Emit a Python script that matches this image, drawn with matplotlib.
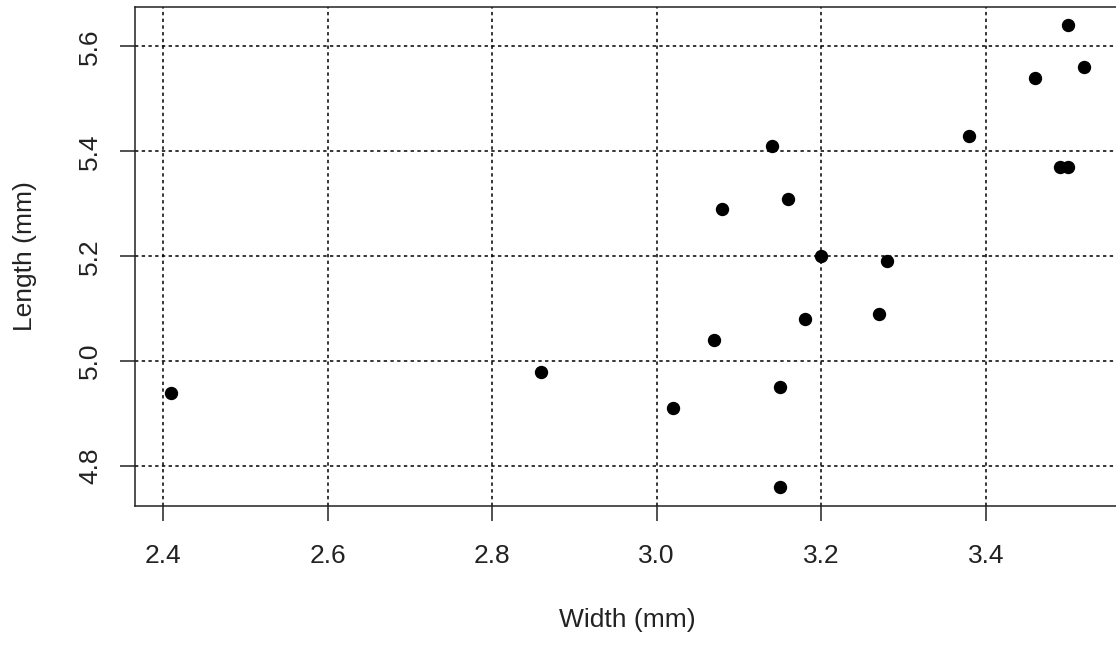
import matplotlib
matplotlib.use("Agg")
from matplotlib import pyplot as plt

width_mm = [2.41, 2.86, 3.02, 3.07, 3.08, 3.14, 3.15, 3.15, 3.16, 3.18,
            3.20, 3.27, 3.28, 3.38, 3.46, 3.49, 3.50, 3.50, 3.52]
length_mm = [4.94, 4.98, 4.91, 5.04, 5.29, 5.41, 4.95, 4.76, 5.31, 5.08,
             5.20, 5.09, 5.19, 5.43, 5.54, 5.37, 5.37, 5.64, 5.56]
x_ticks = [2.4, 2.6, 2.8, 3.0, 3.2, 3.4]
y_ticks = [4.8, 5.0, 5.2, 5.4, 5.6]

plt.rcParams['font.family'] = ['Liberation Sans', 'DejaVu Sans']
plt.rcParams['font.size'] = 19

fig = plt.figure(figsize=(11.16, 6.45), dpi=100)
# R-style plot region; the right edge runs slightly past the image
ax = fig.add_axes([134.7 / 1116, 1 - 505.5 / 645, (1121 - 134.7) / 1116, (505.5 - 7) / 645])

# R extends the data range by 4% on each side
xr = max(width_mm) - min(width_mm)
yr = max(length_mm) - min(length_mm)
ax.set_xlim(min(width_mm) - 0.04 * xr, max(width_mm) + 0.04 * xr)
ax.set_ylim(min(length_mm) - 0.04 * yr, max(length_mm) + 0.04 * yr)

ax.set_xticks(x_ticks)
ax.set_yticks(y_ticks)
ax.set_xticklabels([f"{v:.1f}" for v in x_ticks])
ax.set_yticklabels([f"{v:.1f}" for v in y_ticks], rotation=90, va='center')

ax.grid(True, color='black', linestyle=(0, (2.2, 2.2)), linewidth=1.1)
ax.set_axisbelow(True)

ax.scatter(width_mm, length_mm, s=74, color='black', zorder=3, clip_on=False)

for sp in ax.spines.values():
    sp.set_linewidth(1.1)
    sp.set_color('#222222')
ax.tick_params(axis='x', length=11, width=1.1, pad=17, colors='#222222', labelcolor='#222222')
ax.tick_params(axis='y', length=11, width=1.1, pad=12.5, colors='#222222', labelcolor='#222222')

fig.text(627 / 1116, 1 - 620 / 645, 'Width (mm)', ha='center', va='center', color='#222222')
fig.text(25 / 1116, 1 - 256 / 645, 'Length (mm)', ha='center', va='center',
         rotation=90, color='#222222')

fig.savefig('out.png', dpi=100)
